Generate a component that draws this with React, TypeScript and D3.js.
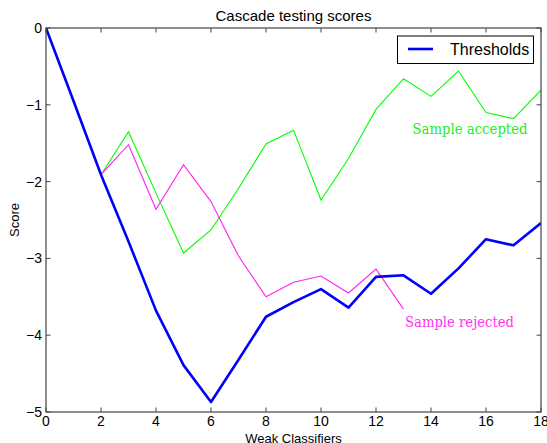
import React from "react";
import * as d3 from "d3";

const W = 547;
const H = 443;

// Threshold score after each weak classifier (0..18)
const stages = d3.range(0, 19);
const thresholds = [0, -0.95, -1.91, -2.78, -3.68, -4.39, -4.87, -4.32, -3.76, -3.57, -3.40, -3.64, -3.24, -3.22, -3.46, -3.13, -2.75, -2.83, -2.54];

// Sample that passes every stage (starts at stage 2)
const acceptedStages = d3.range(2, 19);
const accepted = [-1.91, -1.35, -2.15, -2.93, -2.63, -2.09, -1.51, -1.33, -2.24, -1.70, -1.06, -0.66, -0.89, -0.56, -1.10, -1.18, -0.81];

// Sample that drops below the threshold at stage 13
const rejectedStages = d3.range(2, 14);
const rejected = [-1.91, -1.52, -2.36, -1.78, -2.26, -2.97, -3.50, -3.31, -3.23, -3.45, -3.14, -3.66];

const xTicks = [0, 2, 4, 6, 8, 10, 12, 14, 16, 18];
const yTicks = [0, -1, -2, -3, -4, -5];

const margin = { left: 46, right: 6, top: 28, bottom: 31 };
const sans = "'Liberation Sans', Arial, sans-serif";
const serif = "'DejaVu Serif', 'Liberation Serif', serif";

export default function App() {
  const x = d3.scaleLinear().domain([0, 18]).range([margin.left, W - margin.right]);
  const y = d3.scaleLinear().domain([-5, 0]).range([H - margin.bottom, margin.top]);
  const line = d3
    .line<[number, number]>()
    .x((d) => x(d[0]))
    .y((d) => y(d[1]));

  const x0 = x(0), x1 = x(18), yTop = y(0), yBot = y(-5);
  const tick = 4.5;
  const fmt = (v: number) => (v < 0 ? "\u2212" + Math.abs(v) : String(v));

  return (
    <div style={{ position: "fixed", left: 0, top: 0 }}>
      <svg width={W} height={H} style={{ display: "block", background: "#fff" }}>
        <defs>
          <clipPath id="plot">
            <rect x={x0} y={yTop} width={x1 - x0} height={yBot - yTop} />
          </clipPath>
        </defs>

        <text x={(x0 + x1) / 2} y={21} textAnchor="middle" fontFamily={sans} fontSize={15} fill="#000">
          Cascade testing scores
        </text>

        <g clipPath="url(#plot)" fill="none">
          <path d={line(acceptedStages.map((s, i) => [s, accepted[i]]))!} stroke="#00ff00" strokeWidth={1.1} />
          <path d={line(rejectedStages.map((s, i) => [s, rejected[i]]))!} stroke="#ff22ee" strokeWidth={1.1} />
          <path d={line(stages.map((s, i) => [s, thresholds[i]]))!} stroke="#0000ff" strokeWidth={2.6} strokeLinejoin="round" />
        </g>

        {/* frame and inward ticks */}
        <rect x={x0} y={yTop} width={x1 - x0} height={yBot - yTop} fill="none" stroke="#444" strokeWidth={1.2} />
        {xTicks.map((t) => (
          <g key={"x" + t}>
            <line x1={x(t)} x2={x(t)} y1={yBot} y2={yBot - tick} stroke="#444" />
            <line x1={x(t)} x2={x(t)} y1={yTop} y2={yTop + tick} stroke="#444" />
            <text x={x(t)} y={426} textAnchor="middle" fontFamily={sans} fontSize={14} fill="#000">
              {fmt(t)}
            </text>
          </g>
        ))}
        {yTicks.map((t) => (
          <g key={"y" + t}>
            <line x1={x0} x2={x0 + tick} y1={y(t)} y2={y(t)} stroke="#444" />
            <line x1={x1} x2={x1 - tick} y1={y(t)} y2={y(t)} stroke="#444" />
            <text x={42} y={y(t)} dy="0.35em" textAnchor="end" fontFamily={sans} fontSize={14} fill="#000">
              {fmt(t)}
            </text>
          </g>
        ))}

        <text x={(x0 + x1) / 2} y={443} textAnchor="middle" fontFamily={sans} fontSize={13} fill="#000">
          Weak Classifiers
        </text>
        <text transform={`translate(19,${(yTop + yBot) / 2}) rotate(-90)`} textAnchor="middle" fontFamily={sans} fontSize={13} fill="#000">
          Score
        </text>

        <text x={412.5} y={134} fontFamily={serif} fontSize={15} fill="#22ee22" textLength={115} lengthAdjust="spacingAndGlyphs">
          Sample accepted
        </text>
        <text x={405} y={327} fontFamily={serif} fontSize={15} fill="#ff33ee" textLength={109} lengthAdjust="spacingAndGlyphs">
          Sample rejected
        </text>

        {/* legend */}
        <rect x={397.5} y={36} width={136} height={27.5} fill="#fff" stroke="#000" strokeWidth={1} />
        <line x1={408} x2={433} y1={49} y2={49} stroke="#0000ff" strokeWidth={2.6} />
        <text x={450} y={55} fontFamily={sans} fontSize={16} fill="#000">
          Thresholds
        </text>
      </svg>
    </div>
  );
}
